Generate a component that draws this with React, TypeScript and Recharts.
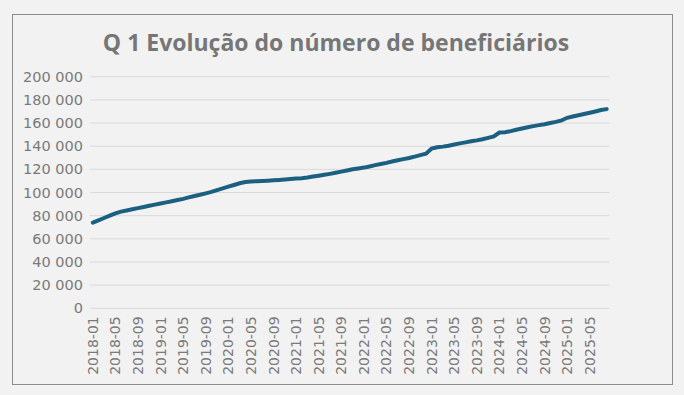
import React from "react";
import { CartesianGrid, Line, LineChart, XAxis, YAxis } from "recharts";

// Monthly periods, 2018-01 .. 2025-08
const months = [
  "2018-01", "2018-02", "2018-03", "2018-04", "2018-05", "2018-06", "2018-07", "2018-08", "2018-09", "2018-10", "2018-11", "2018-12",
  "2019-01", "2019-02", "2019-03", "2019-04", "2019-05", "2019-06", "2019-07", "2019-08", "2019-09", "2019-10", "2019-11", "2019-12",
  "2020-01", "2020-02", "2020-03", "2020-04", "2020-05", "2020-06", "2020-07", "2020-08", "2020-09", "2020-10", "2020-11", "2020-12",
  "2021-01", "2021-02", "2021-03", "2021-04", "2021-05", "2021-06", "2021-07", "2021-08", "2021-09", "2021-10", "2021-11", "2021-12",
  "2022-01", "2022-02", "2022-03", "2022-04", "2022-05", "2022-06", "2022-07", "2022-08", "2022-09", "2022-10", "2022-11", "2022-12",
  "2023-01", "2023-02", "2023-03", "2023-04", "2023-05", "2023-06", "2023-07", "2023-08", "2023-09", "2023-10", "2023-11", "2023-12",
  "2024-01", "2024-02", "2024-03", "2024-04", "2024-05", "2024-06", "2024-07", "2024-08", "2024-09", "2024-10", "2024-11", "2024-12",
  "2025-01", "2025-02", "2025-03", "2025-04", "2025-05", "2025-06", "2025-07", "2025-08",
];

// Number of beneficiaries per month
const beneficiaries = [
  74000, 76000, 78000, 80000, 82000, 83500, 84500, 85500, 86500, 87500, 88500, 89500,
  90500, 91500, 92500, 93500, 94500, 95800, 97000, 98000, 99200, 100500, 102000, 103500,
  105000, 106500, 108000, 109000, 109500, 109800, 110000, 110200, 110500, 110800, 111200, 111600,
  112000, 112400, 113000, 113800, 114500, 115300, 116100, 117000, 118000, 119000, 120000, 120800,
  121500, 122500, 123600, 124600, 125600, 126800, 127800, 128800, 129800, 131000, 132300, 133500,
  138000, 139000, 139600, 140400, 141400, 142400, 143300, 144200, 145000, 146000, 147200, 148500,
  151800, 152000, 153000, 154200, 155200, 156300, 157300, 158200, 159000, 160000, 161000, 162200,
  164500, 165600, 166700, 167800, 168900, 170000, 171200, 172000,
];

const yTicks = [0, 20000, 40000, 60000, 80000, 100000, 120000, 140000, 160000, 180000, 200000];

const data = months.map((m, i) => ({ month: m, value: beneficiaries[i] }));

const textColor = "#7a7a7a";

// thousands separated by a space, as in the original
const formatNumber = (v: number) =>
  String(v).replace(/\B(?=(\d{3})+(?!\d))/g, " ");

const XTick = (props: any) => {
  const { x, y, payload } = props;
  return (
    <text
      x={x}
      y={y}
      transform={`rotate(-90 ${x} ${y})`}
      textAnchor="end"
      dy="0.36em"
      fill={textColor}
      fontSize={14}
      fontFamily="DejaVu Sans"
    >
      {payload.value}
    </text>
  );
};

export default function App() {
  return (
    <div
      style={{
        position: "fixed",
        left: 0,
        top: 0,
        width: 684,
        height: 395,
        background: "#f2f2f2",
      }}
    >
      <div
        style={{
          position: "absolute",
          left: 12,
          top: 14,
          width: 659,
          height: 369,
          border: "1px solid #8c8c8c",
        }}
      />
      <div
        style={{
          position: "absolute",
          left: 0,
          top: 26,
          width: 672,
          textAlign: "center",
          fontFamily: "'Open Sans'",
          fontWeight: 700,
          fontSize: 23,
          color: "#767676",
        }}
      >
        Q 1 Evolução do número de beneficiários
      </div>
      <div style={{ position: "absolute", left: 0, top: 0 }}>
        <LineChart
          width={684}
          height={395}
          data={data}
          margin={{ top: 76.7, right: 74.5, bottom: 16.7, left: 10 }}
        >
          <CartesianGrid vertical={false} stroke="#d9d9d9" />
          <XAxis
            dataKey="month"
            interval={3}
            height={70}
            axisLine={false}
            tickLine={false}
            tick={<XTick />}
            padding={{ left: 2.8, right: 2.8 }}
          />
          <YAxis
            width={80}
            domain={[0, 200000]}
            ticks={yTicks}
            axisLine={false}
            tickLine={false}
            tickMargin={1}
            tickFormatter={formatNumber}
            tick={{ fill: textColor, fontSize: 14.5, fontFamily: "DejaVu Sans" }}
          />
          <Line
            type="linear"
            dataKey="value"
            stroke="#1b6080"
            strokeWidth={4}
            strokeLinecap="round"
            dot={false}
            isAnimationActive={false}
          />
        </LineChart>
      </div>
    </div>
  );
}
